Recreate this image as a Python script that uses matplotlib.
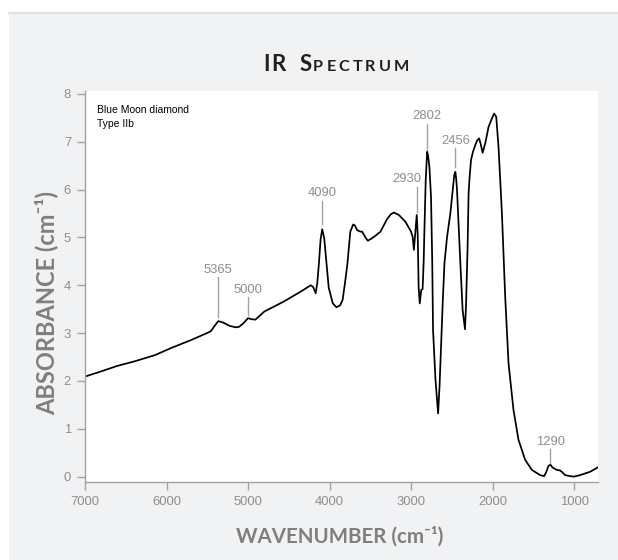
import matplotlib
matplotlib.use("Agg")
import matplotlib.pyplot as plt
from matplotlib.patches import Rectangle
from matplotlib.lines import Line2D

# ---------------- data ----------------
wavenumber = [7000, 6800, 6610, 6390, 6140, 5940, 5690, 5490, 5455, 5410, 5365, 5305,
              5225, 5150, 5110, 5060, 5000, 4955, 4910, 4800, 4560, 4350, 4230, 4200,
              4170, 4150, 4130, 4110, 4090, 4065, 4040, 4010, 3960, 3915, 3870, 3840,
              3810, 3780, 3745, 3710, 3690, 3660, 3620, 3600, 3560, 3530, 3490, 3455,
              3375, 3295, 3250, 3212, 3150, 3070, 3000, 2980, 2965, 2950, 2930, 2918,
              2907, 2893, 2875, 2858, 2845, 2836, 2820, 2802, 2790, 2775, 2755, 2740,
              2730, 2700, 2668, 2650, 2632, 2610, 2590, 2558, 2518, 2485, 2470, 2456,
              2445, 2436, 2415, 2395, 2367, 2338, 2325, 2306, 2294, 2281, 2264, 2240,
              2212, 2190, 2165, 2145, 2122, 2100, 2089, 2049, 2007, 1980, 1955, 1927,
              1885, 1845, 1804, 1743, 1682, 1600, 1518, 1416, 1367, 1340, 1315, 1290,
              1265, 1212, 1175, 1150, 1110, 1050, 1000, 927, 804, 710]
absorbance = [2.09, 2.20, 2.31, 2.41, 2.54, 2.69, 2.86, 3.01, 3.04, 3.15, 3.25, 3.22,
              3.15, 3.12, 3.13, 3.20, 3.31, 3.29, 3.28, 3.45, 3.66, 3.87, 4.00, 3.96,
              3.83, 4.05, 4.46, 4.95, 5.17, 4.98, 4.50, 3.95, 3.62, 3.54, 3.58, 3.69,
              4.05, 4.46, 5.12, 5.27, 5.25, 5.15, 5.12, 5.12, 5.00, 4.93, 4.97, 5.01,
              5.12, 5.38, 5.48, 5.52, 5.47, 5.33, 5.12, 5.01, 4.74, 5.05, 5.47, 5.05,
              3.97, 3.62, 3.90, 3.92, 4.50, 5.15, 6.20, 6.79, 6.70, 6.48, 5.85, 4.50,
              3.06, 2.02, 1.32, 1.90, 2.72, 3.70, 4.46, 5.01, 5.50, 6.06, 6.30, 6.37,
              6.20, 5.99, 5.20, 4.46, 3.48, 3.08, 3.60, 4.81, 5.92, 6.27, 6.62, 6.79,
              6.93, 7.02, 7.07, 6.95, 6.77, 6.90, 6.97, 7.31, 7.49, 7.59, 7.52, 6.90,
              5.50, 3.76, 2.37, 1.39, 0.77, 0.35, 0.14, 0.03, 0.01, 0.10, 0.22, 0.25,
              0.19, 0.14, 0.13, 0.10, 0.03, 0.01, 0.00, 0.03, 0.10, 0.19]

peak_labels = ["5365", "5000", "4090", "2930", "2802", "2456", "1290"]
x_ticks = [7000, 6000, 5000, 4000, 3000, 2000, 1000]
y_ticks = [0, 1, 2, 3, 4, 5, 6, 7, 8]
sample_text = ["Blue Moon diamond", "Type IIb"]
title_chunks = [("IR", "big"), ("S", "big"), ("PECTRUM", "small")]

# ---------------- layout (positions, not data) ----------------
# (line x, text x, line bottom, line top, text baseline) in data coords
peak_layout = [
    (5365, 5365, 3.34, 4.17, 4.26),
    (5000, 5000, 3.38, 3.75, 3.84),
    (4090, 4090, 5.28, 5.77, 5.86),
    (2930, 3045, 5.54, 6.06, 6.15),
    (2802, 2802, 6.83, 7.38, 7.47),
    (2456, 2456, 6.47, 6.86, 6.95),
    (1290, 1290, 0.29, 0.57, 0.66),
]

W, H = 618, 560
DPI = 100
GRAY_TXT = "#8e8e8e"
GRAY_AX = "#a3a3a3"
LABEL_GRAY = "#7f7f7f"

fig = plt.figure(figsize=(W / DPI, H / DPI), dpi=DPI, facecolor="white")
fig.patches.append(Rectangle((9 / W, 0), 1 - 9 / W, (H - 12) / H,
                             transform=fig.transFigure, facecolor="#f1f2f4",
                             edgecolor="none", zorder=-10))
fig.lines.append(Line2D([9 / W, 1], [(H - 12.5) / H, (H - 12.5) / H],
                        transform=fig.transFigure, color="#e0e1e3", lw=1.5))

left, right, top, bottom = 85, 597.7, 91, 481.7
ax = fig.add_axes([left / W, (H - bottom) / H, (right - left) / W, (bottom - top) / H])
ax.set_facecolor("white")

ax.plot(wavenumber, absorbance, color="black", lw=1.25, solid_joinstyle="round")

ax.set_xlim(7000, 710)
ax.set_ylim(-0.107, 8.06)
ax.set_xticks(x_ticks)
ax.set_yticks(y_ticks)
ax.set_xticklabels([str(v) for v in x_ticks])
ax.set_yticklabels([str(v) for v in y_ticks])
for s in ["top", "right"]:
    ax.spines[s].set_visible(False)
for s in ["left", "bottom"]:
    ax.spines[s].set_color(GRAY_AX)
    ax.spines[s].set_linewidth(1.0)
ax.tick_params(direction="out", length=5.5, width=1.0, color=GRAY_AX,
               labelcolor=GRAY_TXT, labelsize=9.4, pad=4.5)
for lab in ax.get_xticklabels() + ax.get_yticklabels():
    lab.set_family("Liberation Sans")

# peak annotations
for lab, (lx, tx, y0, y1, ty) in zip(peak_labels, peak_layout):
    ax.plot([lx, lx], [y0, y1], color=GRAY_AX, lw=1.0)
    ax.text(tx, ty, lab, ha="center", va="baseline", color=GRAY_TXT,
            fontsize=9.4, family="Liberation Sans")

# sample text
ax.text((97 - left) / (right - left), (bottom - 112.5) / (bottom - top), sample_text[0],
        transform=ax.transAxes, ha="left", va="baseline", fontsize=7.5,
        family="Liberation Sans", color="black")
ax.text((97 - left) / (right - left), (bottom - 126.5) / (bottom - top), sample_text[1],
        transform=ax.transAxes, ha="left", va="baseline", fontsize=7.5,
        family="Liberation Sans", color="black")

# axis labels
fig.text(46 / W, 1 - 302.7 / H, "ABSORBANCE (cm⁻¹)", rotation=90, ha="center",
         va="center", fontsize=17, fontweight="bold", color=LABEL_GRAY,
         family=["Lato", "DejaVu Sans"])
fig.text(340 / W, 1 - 543 / H, "WAVENUMBER (cm⁻¹)", ha="center",
         va="baseline", fontsize=14.8, fontweight="bold", color=LABEL_GRAY,
         family=["Lato", "DejaVu Sans"])

# title with small caps, drawn letter by letter
fig.canvas.draw()
renderer = fig.canvas.get_renderer()
sizes = {"big": 16.0, "small": 11.7}
tracking = {"big": 1.5, "small": 3.0}
word_gap = 14.0
items = []
for ci, (txt, kind) in enumerate(title_chunks):
    for ch in txt:
        t = fig.text(0, 0, ch, fontsize=sizes[kind], fontweight="bold",
                     color="#231f20", family="Lato", ha="left", va="baseline")
        w = t.get_window_extent(renderer).width
        items.append([t, w, tracking[kind]])
    if ci == 0:
        items[-1][2] = word_gap
total = sum(w for _, w, _ in items) + sum(g for _, _, g in items[:-1])
x = 336 - total / 2
for t, w, g in items:
    t.set_position((x / W, 1 - 71 / H))
    x += w + g

fig.savefig("out.png", dpi=DPI, facecolor=fig.get_facecolor())
